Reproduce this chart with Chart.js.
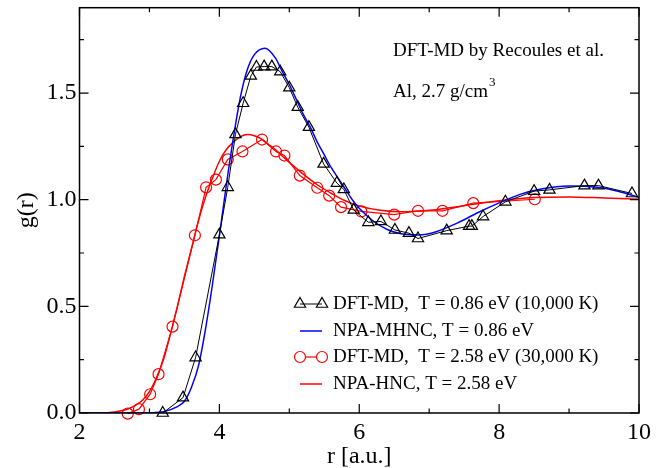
<!DOCTYPE html>
<html>
<head>
<meta charset="utf-8">
<script src="https://cdn.jsdelivr.net/npm/chart.js@4.4.1/dist/chart.umd.min.js"></script>
<style>
  html, body { margin: 0; padding: 0; background: #fff; }
</style>
</head>
<body>
<canvas id="myChart" width="670" height="468"></canvas>
<script>
// DFT-MD, T = 0.86 eV (triangles)
var dftLowR = [3.19, 3.48, 3.66, 4.0, 4.12, 4.23, 4.34, 4.45, 4.53, 4.64, 4.75, 4.87, 5.0, 5.12, 5.28, 5.49, 5.68, 5.78, 5.92, 6.13, 6.31, 6.51, 6.71, 6.84, 7.25, 7.57, 7.61, 7.77, 8.09, 8.5, 8.72, 9.22, 9.42, 9.9];
var dftLowG = [0.0, 0.072, 0.26, 0.836, 1.058, 1.306, 1.452, 1.58, 1.622, 1.624, 1.624, 1.6, 1.525, 1.434, 1.34, 1.168, 1.078, 1.048, 0.952, 0.894, 0.898, 0.858, 0.843, 0.818, 0.855, 0.876, 0.876, 0.921, 0.99, 1.04, 1.046, 1.066, 1.066, 1.029];

// NPA-MHNC, T = 0.86 eV
var mhncR = [2.0, 2.8, 3.0, 3.2, 3.4, 3.5, 3.6, 3.7, 3.8, 3.9, 4.0, 4.1, 4.2, 4.3, 4.4, 4.5, 4.65, 4.8, 4.9, 5.0, 5.1, 5.2, 5.3, 5.4, 5.5, 5.6, 5.7, 5.8, 5.9, 6.0, 6.2, 6.4, 6.6, 6.85, 7.1, 7.4, 7.7, 8.0, 8.3, 8.6, 9.0, 9.4, 9.7, 10.0];
var mhncG = [0.0, 0.0, 0.001, 0.006, 0.03, 0.055, 0.12, 0.22, 0.39, 0.6, 0.83, 1.07, 1.29, 1.48, 1.61, 1.68, 1.71, 1.665, 1.6, 1.54, 1.47, 1.4, 1.34, 1.27, 1.21, 1.15, 1.1, 1.05, 1.0, 0.96, 0.9, 0.86, 0.84, 0.835, 0.85, 0.89, 0.94, 0.985, 1.025, 1.05, 1.064, 1.058, 1.04, 1.01];

// DFT-MD, T = 2.58 eV (circles)
var dftHighR = [2.69, 2.85, 3.01, 3.13, 3.33, 3.65, 3.81, 3.95, 4.12, 4.33, 4.61, 4.81, 4.93, 5.15, 5.4, 5.57, 5.74, 6.03, 6.5, 6.84, 7.19, 7.63, 8.51];
var dftHighG = [-0.003, 0.018, 0.088, 0.182, 0.405, 0.833, 1.058, 1.094, 1.189, 1.226, 1.282, 1.226, 1.207, 1.113, 1.056, 1.019, 0.965, 0.945, 0.93, 0.948, 0.948, 0.984, 1.002];

// NPA-HNC, T = 2.58 eV
var hncR = [2.0, 2.3, 2.5, 2.7, 2.9, 3.0, 3.1, 3.2, 3.3, 3.4, 3.5, 3.6, 3.7, 3.8, 3.9, 4.0, 4.1, 4.2, 4.3, 4.4, 4.5, 4.6, 4.7, 4.8, 4.9, 5.0, 5.2, 5.4, 5.6, 5.8, 6.0, 6.3, 6.6, 7.0, 7.5, 8.0, 8.5, 9.0, 9.5, 10.0];
var hncG = [0.0, 0.0, 0.005, 0.02, 0.06, 0.1, 0.165, 0.25, 0.37, 0.5, 0.64, 0.77, 0.9, 1.01, 1.1, 1.18, 1.235, 1.27, 1.295, 1.305, 1.3, 1.285, 1.26, 1.235, 1.205, 1.175, 1.12, 1.07, 1.03, 0.995, 0.97, 0.95, 0.943, 0.95, 0.972, 0.995, 1.01, 1.013, 1.008, 1.002];

var xMajor = [2, 4, 6, 8, 10];
var xMinor = [3, 5, 7, 9];
var yMajor = [0, 0.5, 1.0, 1.5];
var yMinor = [0.25, 0.75, 1.25, 1.75];

var legendLabels = [
  'DFT-MD,  T = 0.86 eV (10,000 K)',
  'NPA-MHNC, T = 0.86 eV',
  'DFT-MD,  T = 2.58 eV (30,000 K)',
  'NPA-HNC, T = 2.58 eV'
];
var noteLines = ['DFT-MD by Recoules et al.', 'Al, 2.7 g/cm'];

var serif = "'Liberation Serif', 'Times New Roman', serif";

function pairs(xs, ys) {
  return xs.map(function (x, i) { return { x: x, y: ys[i] }; });
}

function triangle(ctx, x, y, r) {
  ctx.beginPath();
  ctx.moveTo(x, y - r);
  ctx.lineTo(x + r * 0.866, y + r * 0.5);
  ctx.lineTo(x - r * 0.866, y + r * 0.5);
  ctx.closePath();
  ctx.stroke();
}

// frame, inward ticks, notes and the legend drawn inside the plot
var decorations = {
  id: 'decorations',
  afterDatasetsDraw: function (chart) {
    var ctx = chart.ctx, a = chart.chartArea;
    var xs = chart.scales.x, ys = chart.scales.y;
    ctx.save();
    ctx.strokeStyle = '#000';
    ctx.lineWidth = 1.5;
    ctx.strokeRect(a.left, a.top, a.right - a.left, a.bottom - a.top);

    ctx.lineWidth = 1.2;
    ctx.beginPath();
    function xt(list, len) {
      list.forEach(function (v) {
        var p = xs.getPixelForValue(v);
        ctx.moveTo(p, a.bottom); ctx.lineTo(p, a.bottom - len);
        ctx.moveTo(p, a.top); ctx.lineTo(p, a.top + len);
      });
    }
    function yt(list, len) {
      list.forEach(function (v) {
        var p = ys.getPixelForValue(v);
        ctx.moveTo(a.left, p); ctx.lineTo(a.left + len, p);
        ctx.moveTo(a.right, p); ctx.lineTo(a.right - len, p);
      });
    }
    xt(xMajor, 9); xt(xMinor, 4.5);
    yt(yMajor, 9); yt(yMinor, 4.5);
    ctx.stroke();

    // notes top right
    ctx.fillStyle = '#000';
    ctx.textBaseline = 'middle';
    ctx.textAlign = 'left';
    ctx.font = '19px ' + serif;
    ctx.fillText(noteLines[0], 393, 51);
    ctx.fillText(noteLines[1], 393, 92);
    var w = ctx.measureText(noteLines[1]).width;
    ctx.font = '13px ' + serif;
    ctx.fillText('3', 393 + w + 1, 83);

    // legend
    var ds = chart.data.datasets;
    var rows = [304, 331, 357, 384];
    var x0 = 300, x1 = 322;
    ctx.font = '19px ' + serif;
    for (var i = 0; i < 4; i++) {
      var d = ds[i], y = rows[i];
      ctx.strokeStyle = d.borderColor;
      ctx.lineWidth = d.borderWidth;
      ctx.beginPath();
      ctx.moveTo(x0, y); ctx.lineTo(x1, y);
      ctx.stroke();
      if (d.pointStyle === 'triangle') {
        ctx.lineWidth = 1.2;
        triangle(ctx, x0, y, 6.5);
        triangle(ctx, x1, y, 6.5);
      } else if (d.pointRadius > 0) {
        ctx.lineWidth = 1.2;
        ctx.fillStyle = '#fff';
        [x0, x1].forEach(function (px) {
          ctx.beginPath(); ctx.arc(px, y, 5.5, 0, Math.PI * 2); ctx.fill(); ctx.stroke();
        });
      }
      ctx.fillStyle = '#000';
      ctx.fillText(legendLabels[i], 333, y);
    }
    ctx.restore();
  }
};

var ctx = document.getElementById('myChart').getContext('2d');
var chart = new Chart(ctx, {
  type: 'scatter',
  data: {
    datasets: [{
      label: legendLabels[0],
      data: pairs(dftLowR, dftLowG),
      showLine: true,
      borderColor: '#000',
      borderWidth: 1,
      pointStyle: 'triangle',
      pointRadius: 6.5,
      pointBorderWidth: 1.2,
      pointBorderColor: '#000',
      pointBackgroundColor: 'rgba(0,0,0,0)',
      clip: 10
    }, {
      label: legendLabels[1],
      data: pairs(mhncR, mhncG),
      showLine: true,
      borderColor: '#0000ff',
      borderWidth: 1.5,
      pointRadius: 0,
      cubicInterpolationMode: 'monotone'
    }, {
      label: legendLabels[2],
      data: pairs(dftHighR, dftHighG),
      showLine: true,
      borderColor: '#ff0000',
      borderWidth: 1.2,
      pointStyle: 'circle',
      pointRadius: 5.5,
      pointBorderWidth: 1.2,
      pointBorderColor: '#ff0000',
      pointBackgroundColor: 'rgba(0,0,0,0)',
      clip: 10
    }, {
      label: legendLabels[3],
      data: pairs(hncR, hncG),
      showLine: true,
      borderColor: '#ff0000',
      borderWidth: 1.5,
      pointRadius: 0,
      cubicInterpolationMode: 'monotone'
    }]
  },
  options: {
    responsive: false,
    animation: false,
    devicePixelRatio: 1,
    layout: { padding: { left: 0, top: 5, right: 31, bottom: 0 } },
    plugins: {
      legend: { display: false },
      tooltip: { enabled: false }
    },
    scales: {
      x: {
        type: 'linear',
        min: 2,
        max: 10,
        grid: { display: false, drawTicks: false },
        border: { display: false },
        ticks: {
          stepSize: 2,
          autoSkip: false,
          includeBounds: false,
          maxRotation: 0,
          padding: 5,
          color: '#000',
          font: { family: serif, size: 24 }
        },
        title: {
          display: true,
          text: 'r [a.u.]',
          color: '#000',
          font: { family: serif, size: 24 },
          padding: { top: 0, bottom: -3 }
        },
        afterFit: function (scale) {
          scale.height = 55;
          scale.paddingLeft = 0;
          scale.paddingRight = 0;
        }
      },
      y: {
        type: 'linear',
        min: 0,
        max: 1.9,
        grid: { display: false, drawTicks: false },
        border: { display: false },
        ticks: {
          stepSize: 0.5,
          autoSkip: false,
          includeBounds: false,
          padding: 3,
          color: '#000',
          font: { family: serif, size: 24 },
          callback: function (v) { return v.toFixed(1); }
        },
        title: {
          display: true,
          text: 'g(r)',
          color: '#000',
          font: { family: serif, size: 24 },
          padding: { top: 12, bottom: 0 }
        },
        afterFit: function (scale) {
          scale.width = 79.5;
          scale.paddingTop = 0;
          scale.paddingBottom = 0;
        }
      }
    }
  },
  plugins: [decorations]
});
</script>
</body>
</html>
